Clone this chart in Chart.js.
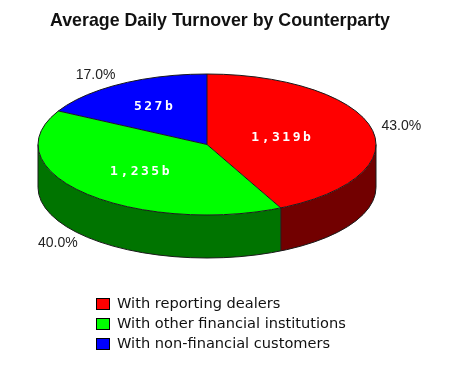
<!DOCTYPE html>
<html>
<head>
<meta charset="utf-8">
<script src="https://cdn.jsdelivr.net/npm/chart.js@4/dist/chart.umd.min.js"></script>
<style>
  html, body { margin: 0; padding: 0; background: #fff; }
  canvas { display: block; }
</style>
</head>
<body>
<canvas id="c" width="454" height="370"></canvas>
<script>
const chartTitle = 'Average Daily Turnover by Counterparty';
const categories = ['With reporting dealers', 'With other financial institutions', 'With non-financial customers'];
const turnover = [1319, 1235, 527];
const valueLabels = ['1,319b', '1,235b', '527b'];
const percentLabels = ['43.0%', '40.0%', '17.0%'];

const topColors = ['#ff0000', '#00ff00', '#0000ff'];
const sideColors = ['#720000', '#007400', '#000074'];

const pie3d = {
  id: 'pie3d',
  beforeDatasetsDraw(chart, args, o) {
    const ctx = chart.ctx;
    const arcs = chart.getDatasetMeta(0).data;
    const a0 = arcs[0];
    const cx = a0.x, cyv = a0.y, r = a0.outerRadius;
    const k = o.ry / r;
    ctx.save();
    // side walls (visible front half: angles 0..PI)
    arcs.forEach((a, i) => {
      const s = Math.max(a.startAngle, 0), e = Math.min(a.endAngle, Math.PI);
      if (e <= s) return;
      ctx.beginPath();
      ctx.ellipse(cx, o.cy, r, o.ry, 0, s, e, false);
      ctx.ellipse(cx, o.cy + o.depth, r, o.ry, 0, e, s, true);
      ctx.closePath();
      ctx.fillStyle = sideColors[i];
      ctx.fill();
    });
    // squash the library's pie into the top face
    ctx.translate(0, o.cy);
    ctx.scale(1, k);
    ctx.translate(0, -cyv);
  },
  afterDatasetsDraw(chart, args, o) {
    const ctx = chart.ctx;
    ctx.restore();
    const arcs = chart.getDatasetMeta(0).data;
    const a0 = arcs[0];
    const cx = a0.x, r = a0.outerRadius, cy = o.cy, ry = o.ry, d = o.depth;
    ctx.save();
    ctx.strokeStyle = o.lineColor;
    ctx.lineWidth = 1;
    ctx.beginPath();
    ctx.ellipse(cx, cy, r, ry, 0, 0, Math.PI * 2);
    ctx.stroke();
    ctx.beginPath();
    ctx.ellipse(cx, cy + d, r, ry, 0, 0, Math.PI);
    ctx.stroke();
    ctx.beginPath();
    ctx.moveTo(cx + r, cy); ctx.lineTo(cx + r, cy + d);
    ctx.moveTo(cx - r, cy); ctx.lineTo(cx - r, cy + d);
    ctx.stroke();
    arcs.forEach((a) => {
      const t = a.startAngle;
      const px = cx + r * Math.cos(t), py = cy + ry * Math.sin(t);
      ctx.beginPath();
      ctx.moveTo(cx, cy); ctx.lineTo(px, py);
      if (Math.sin(t) > 0) { ctx.moveTo(px, py); ctx.lineTo(px, py + d); }
      ctx.stroke();
    });
    // value labels
    ctx.fillStyle = '#ffffff';
    ctx.font = 'bold 13px "DejaVu Sans Mono"';
    ctx.textAlign = 'center';
    ctx.textBaseline = 'middle';
    try { ctx.letterSpacing = '2.5px'; } catch (e) {}
    arcs.forEach((a, i) => {
      const m = (a.startAngle + a.endAngle) / 2;
      const f = o.labelRadius[i];
      ctx.fillText(valueLabels[i], cx + f * r * Math.cos(m) + 1.2, cy + f * ry * Math.sin(m));
    });
    try { ctx.letterSpacing = '0px'; } catch (e) {}
    // percent labels
    ctx.fillStyle = '#222';
    ctx.font = '14px "Liberation Sans"';
    arcs.forEach((a, i) => {
      const m = (a.startAngle + a.endAngle) / 2;
      const c = Math.cos(m), s = Math.sin(m);
      const x = cx + (r + 10) * c;
      const y = cy + (ry + 10) * s + (s > 0 ? d : 0);
      ctx.textAlign = c >= 0 ? 'left' : 'right';
      ctx.fillText(percentLabels[i], x, y);
    });
    ctx.restore();
  },
  afterDraw(chart, args, o) {
    const ctx = chart.ctx;
    ctx.save();
    ctx.fillStyle = '#111';
    ctx.font = 'bold 17.8px "Liberation Sans"';
    ctx.textAlign = 'center';
    ctx.textBaseline = 'alphabetic';
    ctx.fillText(chartTitle, 220, 26);
    // legend
    ctx.font = '14.6px "DejaVu Sans"';
    ctx.textAlign = 'left';
    ctx.textBaseline = 'middle';
    categories.forEach((name, i) => {
      const y = 304 + i * 20;
      ctx.fillStyle = topColors[i];
      ctx.fillRect(96.5, y - 5.5, 13, 11);
      ctx.strokeStyle = '#000';
      ctx.lineWidth = 1;
      ctx.strokeRect(96.5, y - 5.5, 13, 11);
      ctx.fillStyle = '#111';
      ctx.fillText(name, 117, y);
    });
    ctx.restore();
  }
};

new Chart(document.getElementById('c'), {
  type: 'pie',
  data: {
    labels: categories,
    datasets: [{
      data: turnover,
      backgroundColor: topColors,
      borderWidth: 0,
      radius: 169
    }]
  },
  options: {
    responsive: false,
    animation: false,
    devicePixelRatio: 1,
    layout: { padding: { left: 0, right: 40, top: 0, bottom: 0 } },
    plugins: {
      legend: { display: false },
      title: { display: false },
      tooltip: { enabled: false },
      pie3d: { cy: 144.5, ry: 70.5, depth: 43, lineColor: '#1a1a1a', labelRadius: [0.45, 0.55, 0.62] }
    }
  },
  plugins: [pie3d]
});
</script>
</body>
</html>
